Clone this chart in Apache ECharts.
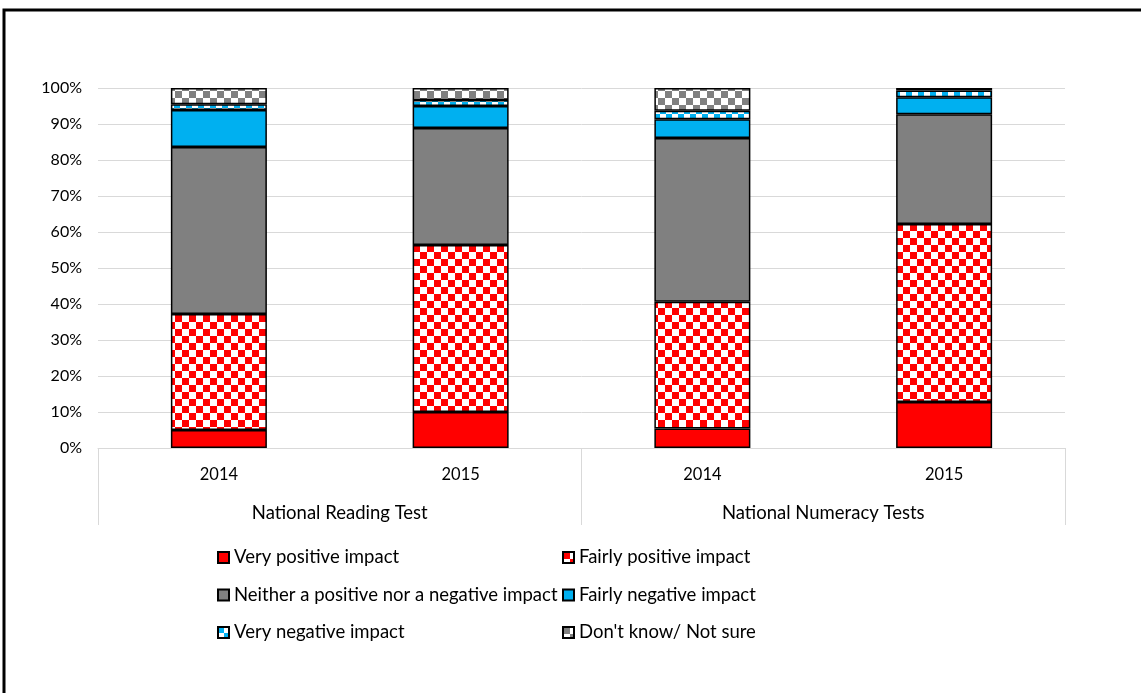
<!DOCTYPE html>
<html>
<head>
<meta charset="utf-8">
<script src="https://cdn.jsdelivr.net/npm/echarts@6/dist/echarts.min.js"></script>
<style>
  html, body { margin: 0; padding: 0; background: #fff; }
  #chart { width: 1141px; height: 693px; }
</style>
</head>
<body>
<div id="chart"></div>
<script>
  // categories (two-level axis)
  const years = ['2014', '2015', '2014', '2015'];
  const tests = ['National Reading Test', 'National Numeracy Tests'];
  const yTicks = [0, 10, 20, 30, 40, 50, 60, 70, 80, 90, 100];

  // shares in percent
  const veryPositive = [5.0, 10.0, 5.4, 12.8];
  const fairlyPositive = [32.2, 46.4, 35.2, 49.4];
  const neither = [46.4, 32.5, 45.5, 30.5];
  const fairlyNegative = [10.3, 6.1, 5.2, 4.7];
  const veryNegative = [1.6, 1.7, 2.4, 1.9];
  const dontKnow = [4.5, 3.3, 6.3, 0.7];

  // checker board fill like the excel patterns
  function checker(c1, c2, cell) {
    const cv = document.createElement('canvas');
    cv.width = cell * 2;
    cv.height = cell * 2;
    const ctx = cv.getContext('2d');
    ctx.fillStyle = c2;
    ctx.fillRect(0, 0, cell * 2, cell * 2);
    ctx.fillStyle = c1;
    ctx.fillRect(0, 0, cell, cell);
    ctx.fillRect(cell, cell, cell, cell);
    return { image: cv, repeat: 'repeat' };
  }

  const red = '#ff0000', blue = '#00b0f0', grey = '#808080';

  function bar(name, data, color) {
    return {
      name: name,
      type: 'bar',
      stack: 'all',
      barWidth: 96,
      data: data,
      itemStyle: { color: color, borderColor: '#000', borderWidth: 1.5 }
    };
  }

  const chart = echarts.init(document.getElementById('chart'));
  const legendText = { fontFamily: 'Lato', fontSize: 18.5, color: '#000' };

  chart.setOption({
    animation: false,
    textStyle: { fontFamily: 'Lato' },
    grid: { left: 98, right: 76, top: 88, bottom: 245 },
    graphic: [{
      type: 'rect',
      shape: { x: 4, y: 10, width: 1200, height: 760 },
      style: { fill: 'none', stroke: '#000', lineWidth: 3 },
      silent: true
    }],
    legend: [
      {
        orient: 'vertical',
        left: 212, top: 543,
        icon: 'rect',
        itemWidth: 11, itemHeight: 11, itemGap: 18.5,
        textStyle: legendText,
        data: ['Very positive impact', 'Neither a positive nor a negative impact', 'Very negative impact']
      },
      {
        orient: 'vertical',
        left: 557, top: 543,
        icon: 'rect',
        itemWidth: 11, itemHeight: 11, itemGap: 18.5,
        textStyle: legendText,
        data: ['Fairly positive impact', 'Fairly negative impact', "Don't know/ Not sure"]
      }
    ],
    xAxis: [
      {
        type: 'category',
        data: years,
        axisLine: { lineStyle: { color: '#d9d9d9' } },
        axisTick: { show: false },
        axisLabel: { margin: 18, fontSize: 16.5, color: '#000', fontFamily: 'Lato' }
      },
      {
        type: 'category',
        data: tests,
        position: 'bottom',
        axisLine: { show: false },
        axisTick: { show: true, length: 77, lineStyle: { color: '#d9d9d9' } },
        axisLabel: { margin: 56, fontSize: 18.5, color: '#000', fontFamily: 'Lato' }
      }
    ],
    yAxis: {
      type: 'value',
      min: yTicks[0],
      max: yTicks[yTicks.length - 1],
      interval: 10,
      axisLine: { show: false },
      axisTick: { show: false },
      splitLine: { lineStyle: { color: '#d9d9d9', width: 1 } },
      axisLabel: { formatter: '{value}%', fontSize: 16, color: '#000', margin: 16, fontFamily: 'Lato' }
    },
    series: [
      bar('Very positive impact', veryPositive, red),
      bar('Fairly positive impact', fairlyPositive, checker(red, '#fff', 7)),
      bar('Neither a positive nor a negative impact', neither, grey),
      bar('Fairly negative impact', fairlyNegative, blue),
      bar('Very negative impact', veryNegative, checker(blue, '#fff', 6)),
      bar("Don't know/ Not sure", dontKnow, checker(grey, '#fff', 7))
    ]
  });
</script>
</body>
</html>
